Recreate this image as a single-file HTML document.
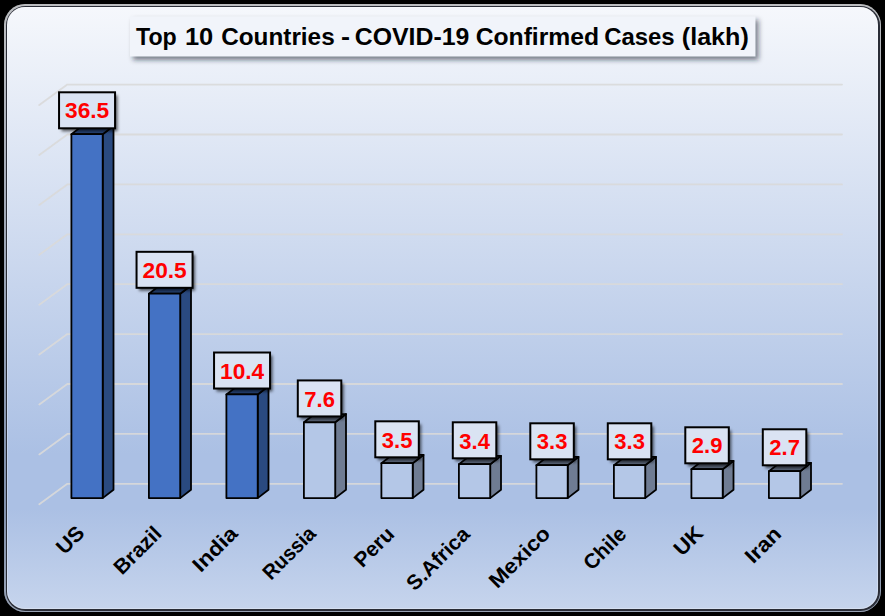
<!DOCTYPE html>
<html><head><meta charset="utf-8"><title>Top 10 Countries - COVID-19 Confirmed Cases</title>
<style>html,body{margin:0;padding:0;background:#000;}body{width:885px;height:616px;overflow:hidden;}svg{display:block;}text{font-family:"Liberation Sans",sans-serif;font-weight:bold;}</style></head><body>
<svg width="885" height="616" viewBox="0 0 885 616">
<defs>
<linearGradient id="bg" gradientUnits="userSpaceOnUse" x1="0" y1="4" x2="0" y2="612"><stop offset="0" stop-color="#f6f8fc"/><stop offset="0.74" stop-color="#abc0e4"/><stop offset="0.83" stop-color="#abc0e4"/><stop offset="1" stop-color="#c7d5ed"/></linearGradient>
<filter id="sh" x="-20%" y="-20%" width="150%" height="160%"><feGaussianBlur stdDeviation="1.8"/></filter>
<filter id="sh2" x="-5%" y="-30%" width="112%" height="190%"><feGaussianBlur stdDeviation="2.4"/></filter>
</defs>
<rect width="885" height="616" fill="#000"/>
<rect x="4" y="4" width="877" height="608" rx="21" ry="21" fill="url(#bg)" />
<rect x="4" y="4" width="877" height="608" rx="21" ry="21" fill="#000" fill-opacity="0.24"/>
<rect x="6" y="6" width="874" height="605" rx="19.5" ry="19.5" fill="#2a2d37" />
<rect x="7" y="7" width="871" height="602" rx="18" ry="18" fill="url(#bg)" />
<rect x="7" y="7" width="871" height="602" rx="18" ry="18" fill="#fff" fill-opacity="0.28"/>
<rect x="8" y="8" width="869" height="600" rx="17" ry="17" fill="url(#bg)" />
<g fill="none" stroke="#d9d9d9" stroke-width="1.8" stroke-opacity="0.9" stroke-linecap="round" stroke-linejoin="round">
<path d="M39.3 105.1 L67.3 84.6 L842 84.6"/>
<path d="M39.3 155 L67.3 134.5 L842 134.5"/>
<path d="M39.3 204.9 L67.3 184.4 L842 184.4"/>
<path d="M39.3 254.8 L67.3 234.3 L842 234.3"/>
<path d="M39.3 304.7 L67.3 284.2 L842 284.2"/>
<path d="M39.3 354.6 L67.3 334.1 L842 334.1"/>
<path d="M39.3 404.5 L67.3 384 L842 384"/>
<path d="M39.3 454.4 L67.3 433.9 L842 433.9"/>
<path d="M39.3 504.3 L67.3 483.8 L842 483.8"/>
</g>
<rect x="133" y="19.8" width="625.5" height="40.2" fill="#1a2030" fill-opacity="0.55" filter="url(#sh2)"/>
<rect x="130" y="16.3" width="625.5" height="40.2" fill="#f1f4fa"/>
<text x="136.04" y="45.2" font-size="24.5" textLength="40.76" lengthAdjust="spacingAndGlyphs" fill="#000">Top</text>
<text x="184.94" y="45.2" font-size="24.5" textLength="28.36" lengthAdjust="spacingAndGlyphs" fill="#000">10</text>
<text x="221.2" y="45.2" font-size="24.5" textLength="113.48" lengthAdjust="spacingAndGlyphs" fill="#000">Countries</text>
<text x="341.12" y="45.2" font-size="24.5" textLength="9.06" lengthAdjust="spacingAndGlyphs" fill="#000">-</text>
<text x="354.78" y="45.2" font-size="24.5" textLength="114.56" lengthAdjust="spacingAndGlyphs" fill="#000">COVID-19</text>
<text x="475.66" y="45.2" font-size="24.5" textLength="123.4" lengthAdjust="spacingAndGlyphs" fill="#000">Confirmed</text>
<text x="604.16" y="45.2" font-size="24.5" textLength="70.48" lengthAdjust="spacingAndGlyphs" fill="#000">Cases</text>
<text x="681.82" y="45.2" font-size="24.5" textLength="66.94" lengthAdjust="spacingAndGlyphs" fill="#000">(lakh)</text>
<g stroke="#000" stroke-width="1.8" stroke-linejoin="round">
<path d="M102.7 134.195 L113.5 125.895 L113.5 489.8 L102.7 498.1 Z" fill="#2a4a80"/>
<path d="M71.4 134.195 L82.2 125.895 L113.5 125.895 L102.7 134.195 Z" fill="#264478"/>
<rect x="71.4" y="134.195" width="31.3" height="363.905" fill="#4472c4"/>
</g>
<g stroke="#000" stroke-width="1.8" stroke-linejoin="round">
<path d="M180.2 293.715 L191 285.415 L191 489.8 L180.2 498.1 Z" fill="#2a4a80"/>
<path d="M148.9 293.715 L159.7 285.415 L191 285.415 L180.2 293.715 Z" fill="#264478"/>
<rect x="148.9" y="293.715" width="31.3" height="204.385" fill="#4472c4"/>
</g>
<g stroke="#000" stroke-width="1.8" stroke-linejoin="round">
<path d="M257.7 394.412 L268.5 386.112 L268.5 489.8 L257.7 498.1 Z" fill="#2a4a80"/>
<path d="M226.4 394.412 L237.2 386.112 L268.5 386.112 L257.7 394.412 Z" fill="#264478"/>
<rect x="226.4" y="394.412" width="31.3" height="103.688" fill="#4472c4"/>
</g>
<g stroke="#000" stroke-width="1.8" stroke-linejoin="round">
<path d="M335.2 422.328 L346 414.028 L346 489.8 L335.2 498.1 Z" fill="#6f7c93"/>
<path d="M303.9 422.328 L314.7 414.028 L346 414.028 L335.2 422.328 Z" fill="#5c677b"/>
<rect x="303.9" y="422.328" width="31.3" height="75.772" fill="#b4c7e7"/>
</g>
<g stroke="#000" stroke-width="1.8" stroke-linejoin="round">
<path d="M412.7 463.205 L423.5 454.905 L423.5 489.8 L412.7 498.1 Z" fill="#6f7c93"/>
<path d="M381.4 463.205 L392.2 454.905 L423.5 454.905 L412.7 463.205 Z" fill="#5c677b"/>
<rect x="381.4" y="463.205" width="31.3" height="34.895" fill="#b4c7e7"/>
</g>
<g stroke="#000" stroke-width="1.8" stroke-linejoin="round">
<path d="M490.2 464.202 L501 455.902 L501 489.8 L490.2 498.1 Z" fill="#6f7c93"/>
<path d="M458.9 464.202 L469.7 455.902 L501 455.902 L490.2 464.202 Z" fill="#5c677b"/>
<rect x="458.9" y="464.202" width="31.3" height="33.898" fill="#b4c7e7"/>
</g>
<g stroke="#000" stroke-width="1.8" stroke-linejoin="round">
<path d="M567.7 465.199 L578.5 456.899 L578.5 489.8 L567.7 498.1 Z" fill="#6f7c93"/>
<path d="M536.4 465.199 L547.2 456.899 L578.5 456.899 L567.7 465.199 Z" fill="#5c677b"/>
<rect x="536.4" y="465.199" width="31.3" height="32.901" fill="#b4c7e7"/>
</g>
<g stroke="#000" stroke-width="1.8" stroke-linejoin="round">
<path d="M645.2 465.199 L656 456.899 L656 489.8 L645.2 498.1 Z" fill="#6f7c93"/>
<path d="M613.9 465.199 L624.7 456.899 L656 456.899 L645.2 465.199 Z" fill="#5c677b"/>
<rect x="613.9" y="465.199" width="31.3" height="32.901" fill="#b4c7e7"/>
</g>
<g stroke="#000" stroke-width="1.8" stroke-linejoin="round">
<path d="M722.7 469.187 L733.5 460.887 L733.5 489.8 L722.7 498.1 Z" fill="#6f7c93"/>
<path d="M691.4 469.187 L702.2 460.887 L733.5 460.887 L722.7 469.187 Z" fill="#5c677b"/>
<rect x="691.4" y="469.187" width="31.3" height="28.913" fill="#b4c7e7"/>
</g>
<g stroke="#000" stroke-width="1.8" stroke-linejoin="round">
<path d="M800.2 471.181 L811 462.881 L811 489.8 L800.2 498.1 Z" fill="#6f7c93"/>
<path d="M768.9 471.181 L779.7 462.881 L811 462.881 L800.2 471.181 Z" fill="#5c677b"/>
<rect x="768.9" y="471.181" width="31.3" height="26.919" fill="#b4c7e7"/>
</g>
<rect x="61.55" y="95.295" width="56" height="36" fill="#000" fill-opacity="0.6" filter="url(#sh)"/>
<rect x="59.05" y="92.295" width="56" height="36" fill="#dae3f3" stroke="#000" stroke-width="2"/>
<text x="65.05" y="118.495" font-size="22.6" textLength="44.2" lengthAdjust="spacingAndGlyphs" fill="#ff0000">36.5</text>
<rect x="139.05" y="254.815" width="56" height="36" fill="#000" fill-opacity="0.6" filter="url(#sh)"/>
<rect x="136.55" y="251.815" width="56" height="36" fill="#dae3f3" stroke="#000" stroke-width="2"/>
<text x="142.55" y="278.015" font-size="22.6" textLength="44.2" lengthAdjust="spacingAndGlyphs" fill="#ff0000">20.5</text>
<rect x="216.55" y="355.512" width="56" height="36" fill="#000" fill-opacity="0.6" filter="url(#sh)"/>
<rect x="214.05" y="352.512" width="56" height="36" fill="#dae3f3" stroke="#000" stroke-width="2"/>
<text x="220.05" y="378.712" font-size="22.6" textLength="44.2" lengthAdjust="spacingAndGlyphs" fill="#ff0000">10.4</text>
<rect x="300.3" y="383.428" width="43.5" height="36" fill="#000" fill-opacity="0.6" filter="url(#sh)"/>
<rect x="297.8" y="380.428" width="43.5" height="36" fill="#dae3f3" stroke="#000" stroke-width="2"/>
<text x="304.35" y="406.628" font-size="22.6" textLength="30.6" lengthAdjust="spacingAndGlyphs" fill="#ff0000">7.6</text>
<rect x="377.8" y="424.305" width="43.5" height="36" fill="#000" fill-opacity="0.6" filter="url(#sh)"/>
<rect x="375.3" y="421.305" width="43.5" height="36" fill="#dae3f3" stroke="#000" stroke-width="2"/>
<text x="381.85" y="447.505" font-size="22.6" textLength="30.6" lengthAdjust="spacingAndGlyphs" fill="#ff0000">3.5</text>
<rect x="455.3" y="425.302" width="43.5" height="36" fill="#000" fill-opacity="0.6" filter="url(#sh)"/>
<rect x="452.8" y="422.302" width="43.5" height="36" fill="#dae3f3" stroke="#000" stroke-width="2"/>
<text x="459.35" y="448.502" font-size="22.6" textLength="30.6" lengthAdjust="spacingAndGlyphs" fill="#ff0000">3.4</text>
<rect x="532.8" y="426.299" width="43.5" height="36" fill="#000" fill-opacity="0.6" filter="url(#sh)"/>
<rect x="530.3" y="423.299" width="43.5" height="36" fill="#dae3f3" stroke="#000" stroke-width="2"/>
<text x="536.85" y="449.499" font-size="22.6" textLength="30.6" lengthAdjust="spacingAndGlyphs" fill="#ff0000">3.3</text>
<rect x="610.3" y="426.299" width="43.5" height="36" fill="#000" fill-opacity="0.6" filter="url(#sh)"/>
<rect x="607.8" y="423.299" width="43.5" height="36" fill="#dae3f3" stroke="#000" stroke-width="2"/>
<text x="614.35" y="449.499" font-size="22.6" textLength="30.6" lengthAdjust="spacingAndGlyphs" fill="#ff0000">3.3</text>
<rect x="687.8" y="430.287" width="43.5" height="36" fill="#000" fill-opacity="0.6" filter="url(#sh)"/>
<rect x="685.3" y="427.287" width="43.5" height="36" fill="#dae3f3" stroke="#000" stroke-width="2"/>
<text x="691.85" y="453.487" font-size="22.6" textLength="30.6" lengthAdjust="spacingAndGlyphs" fill="#ff0000">2.9</text>
<rect x="765.3" y="432.281" width="43.5" height="36" fill="#000" fill-opacity="0.6" filter="url(#sh)"/>
<rect x="762.8" y="429.281" width="43.5" height="36" fill="#dae3f3" stroke="#000" stroke-width="2"/>
<text x="769.35" y="455.481" font-size="22.6" textLength="30.6" lengthAdjust="spacingAndGlyphs" fill="#ff0000">2.7</text>
<text transform="translate(85.76 534.3) rotate(-45)" x="-30.11" y="0" font-size="20.8" textLength="30.11" lengthAdjust="spacingAndGlyphs" fill="#000">US</text>
<text transform="translate(162.94 534.78) rotate(-45)" x="-57.96" y="0" font-size="20.8" textLength="57.96" lengthAdjust="spacingAndGlyphs" fill="#000">Brazil</text>
<text transform="translate(239 534.86) rotate(-45)" x="-54.21" y="0" font-size="20.8" textLength="54.21" lengthAdjust="spacingAndGlyphs" fill="#000">India</text>
<text transform="translate(316.98 534.86) rotate(-45)" x="-65.14" y="0" font-size="20.8" textLength="65.14" lengthAdjust="spacingAndGlyphs" fill="#000">Russia</text>
<text transform="translate(395.52 535.34) rotate(-45)" x="-46.87" y="0" font-size="20.8" textLength="46.87" lengthAdjust="spacingAndGlyphs" fill="#000">Peru</text>
<text transform="translate(471.1 535.58) rotate(-45)" x="-79.55" y="0" font-size="20.8" textLength="79.55" lengthAdjust="spacingAndGlyphs" fill="#000">S.Africa</text>
<text transform="translate(551.64 534.86) rotate(-45)" x="-76.98" y="0" font-size="20.8" textLength="76.98" lengthAdjust="spacingAndGlyphs" fill="#000">Mexico</text>
<text transform="translate(627.78 535.26) rotate(-45)" x="-51.07" y="0" font-size="20.8" textLength="51.07" lengthAdjust="spacingAndGlyphs" fill="#000">Chile</text>
<text transform="translate(704.48 534.54) rotate(-45)" x="-31.77" y="0" font-size="20.8" textLength="31.77" lengthAdjust="spacingAndGlyphs" fill="#000">UK</text>
<text transform="translate(782.62 535.26) rotate(-45)" x="-41.5" y="0" font-size="20.8" textLength="41.5" lengthAdjust="spacingAndGlyphs" fill="#000">Iran</text>
</svg></body></html>
